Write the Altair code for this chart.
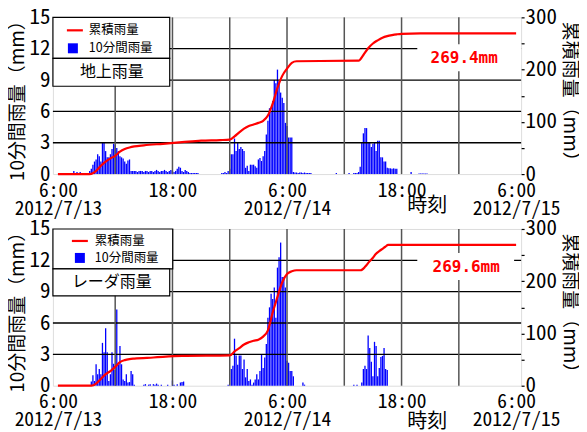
import altair as alt
import pandas as pd

# ---------------- data (10-minute rainfall, mm) ----------------
# each segment: (index of first 10-min step counted from 2012/7/13 6:00, values)
GROUND_A = (10, [0.3, 0.0, 0.2, 0.1, 0.2])
GROUND_B = (20, [0.3, 0.5, 0.9, 1.2, 1.4, 1.9, 1.7, 1.2, 3.0, 3.0, 2.2, 1.6, 1.6, 1.9,
                 2.4, 2.9, 2.8, 2.5, 2.2, 1.7, 1.6, 1.5, 1.2, 1.0, 1.3, 1.4, 0.3])
GROUND_C = (47, [0.3, 0.3, 0.3, 0.2, 0.3, 0.3, 0.3, 0.2, 0.3, 0.3, 0.2, 0.3, 0.3, 0.2,
                 0.3, 0.4, 0.3, 0.2, 0.3, 0.3, 0.4, 0.3, 0.2, 0.3, 0.4, 0.3, 0.2, 0.3,
                 0.5, 0.7, 0.6, 0.3, 0.2, 0.4, 0.3, 0.2, 0.1, 0.1, 0.1, 0.1, 0.1, 0.1])
GROUND_D = (103, [0.1, 0.1, 0.2, 0.1, 0.3,
                  0.5, 1.9, 1.9, 3.4, 2.2, 3.0, 2.4, 2.6, 2.4, 2.2, 0.6, 0.8, 0.3, 0.9,
                  0.9, 0.9, 0.75, 0.6, 1.4, 1.55, 1.25, 1.7, 2.2, 3.8, 5.1, 6.3, 6.0, 7.0,
                  9.0, 8.7, 10.0, 8.9, 7.8, 7.3, 6.8, 4.9, 4.6, 3.5, 3.5, 3.5, 0.2,
                  0.15, 0.15, 0.1, 0.15, 0.15, 0.1, 0.15, 0.1, 0.1, 0.1, 0.1])
GROUND_E = (175, [0.1])
GROUND_F = (183, [0.1, 0.0, 0.0, 0.1, 0.1, 0.1, 0.2, 0.7, 3.0, 3.9, 4.4, 4.4, 3.0, 3.0,
                  2.6, 2.9, 3.0, 2.2, 3.2, 3.2, 1.6, 1.6, 1.2, 1.2, 0.6, 0.55, 0.55, 0.5,
                  0.55, 0.5, 0.5])
GROUND_G = (222, [0.2, 0.0, 0.0, 0.0, 0.0, 0.05, 0.05, 0.05, 0.05, 0.05, 0.05])

RADAR_A = (21, [0.4, 1.0, 0.45, 2.05, 1.1, 1.6, 1.1, 4.1, 3.2, 5.5, 3.2, 0.45, 1.1, 3.2,
                2.1, 1.5, 7.3, 2.0, 3.8, 2.05, 0.6, 0.45, 1.1, 0.3, 0.35, 1.4, 1.1, 0.1])
RADAR_B = (54, [0.1, 0.15, 0.0, 0.1, 0.15, 0.0, 0.15, 0.1, 0.2, 0.1, 0.0, 0.1, 0.0, 0.0,
                0.0, 0.1, 0.0, 0.0, 0.5, 0.1, 0.0, 0.15, 0.0, 0.3, 0.35, 0.4])
RADAR_C = (107, [0.1, 0.0,
                 1.6, 1.9, 4.5, 2.9, 2.0, 2.9, 2.9, 1.6, 2.5, 0.8, 1.6, 0.45, 0.6, 0.1,
                 0.3, 0.6, 1.1, 0.6, 1.4, 3.0, 1.7, 2.7, 4.0, 6.5, 7.5, 8.8, 8.3, 9.4,
                 6.5, 11.3, 12.3, 13.7, 10.4, 10.4, 9.4, 2.4, 2.2, 1.4, 1.4, 0.9])
RADAR_D = (154, [0.3, 0.1])
RADAR_E = (186, [0.1, 0.0, 0.1, 0.0, 0.0, 0.3, 1.6, 1.9, 1.6, 4.8, 3.6, 2.3, 0.9, 4.2,
                 3.8, 0.9, 1.7, 2.75, 2.85, 3.6, 1.6, 1.5])

# cumulative rainfall (hours after 2012/7/13 6:00, mm)
G_CUM_H = [0, 3.3, 3.7, 4.0, 4.5, 5.0, 5.5, 6.0, 6.5, 7.0, 7.5, 8.0, 9.0, 11.0, 13.0,
           15.0, 17.0, 18.0, 18.5, 19.0, 19.5, 20.0, 20.5, 21.0, 21.5, 22.0, 22.5, 23.0,
           23.5, 24.0, 24.5, 25.0, 31.5, 32.0, 32.5, 33.0, 33.5, 34.0, 34.5, 35.0, 35.5,
           36.0, 38.0, 48.0]
G_CUM_V = [0, 0, 2, 6, 16, 24, 30, 35, 43, 48, 51, 53, 55, 58, 61, 64, 65, 66, 72, 80,
           87, 92, 95, 98, 102, 112, 135, 165, 188, 202, 213, 216, 217, 228, 241, 250,
           256, 261, 264, 266, 267.5, 268.5, 269.3, 269.4]
R_CUM_H = [0, 3.5, 4.0, 4.5, 5.0, 5.5, 6.0, 6.5, 7.0, 7.5, 8.0, 10.0, 13.0, 18.0, 18.6,
           19.0, 19.5, 20.0, 20.5, 21.0, 21.5, 22.0, 22.5, 23.0, 23.5, 24.0, 24.5, 25.0,
           31.7, 32.2, 32.6, 33.0, 33.3, 33.7, 34.0, 34.3, 34.6, 48.0]
R_CUM_V = [0, 0, 4, 13, 22, 28, 36, 45, 49, 51, 52, 54, 57, 58, 67, 72, 79, 83, 86, 88,
           94, 106, 140, 170, 198, 214, 219, 221, 221, 228, 237, 245, 252, 258, 262, 266,
           269.6, 269.6]

TICK_HOURS = [0, 12, 24, 36, 48]
TIME_LABELS = ["6:00", "18:00", "6:00", "18:00", "6:00"]
DATE_LABELS = ["2012/7/13", "", "2012/7/14", "", "2012/7/15"]
VGRID_HOURS = [6, 12, 18, 24, 30, 36, 42]
HGRID_MM = [3, 6, 9, 12]
LEFT_TICKS = [0, 3, 6, 9, 12, 15]
RIGHT_TICKS = [0, 50, 100, 150, 200, 250, 300]

FONT = "Noto Sans Mono CJK JP, Noto Sans CJK JP"
JFONT = "Noto Sans CJK JP"
W, H = 469, 157


def bars_frame(segments):
    rows = []
    for start, vals in segments:
        for i, v in enumerate(vals):
            if v > 0:
                rows.append({"h": (start + i) / 6.0, "rain": v})
    return pd.DataFrame(rows)


label_expr = " : ".join(
    f"datum.value == {h} ? ['{t}', '{d}']" for h, t, d in zip(TICK_HOURS, TIME_LABELS, DATE_LABELS)
) + " : ''"

xenc = alt.X("h:Q", scale=alt.Scale(domain=[0, 48], nice=False, zero=False),
             axis=alt.Axis(values=TICK_HOURS, labelExpr=label_expr, grid=False, ticks=False,
                           domain=False, labelFont=FONT, labelFontSize=19.5, labelColor="black",
                           labelPadding=7, labelLineHeight=18, labelOverlap=False,
                           labelFlush=False, labelBaseline="top"),
             title=None)

yleft = alt.Y("rain:Q", scale=alt.Scale(domain=[0, 15], nice=False),
              axis=alt.Axis(values=LEFT_TICKS, grid=False, ticks=False, domain=False,
                            labelFont=FONT, labelFontSize=21, labelColor="black", labelPadding=3,
                            title="10分間雨量（mm）", titleFont=JFONT, titleFontSize=19,
                            titleFontWeight="normal", titleColor="#000000", titlePadding=1),
              title="10分間雨量（mm）")

yright = alt.Y("cum:Q", scale=alt.Scale(domain=[0, 300], nice=False),
               axis=alt.Axis(orient="right", values=RIGHT_TICKS,
                             labelExpr="datum.value % 100 == 0 ? datum.label : ''",
                             grid=False, ticks=True, tickSize=3, tickColor="black",
                             tickWidth=1.2, domain=False, labelFont=FONT, labelFontSize=21,
                             labelColor="black", labelPadding=1,
                             title="累積雨量（mm）", titleFont=JFONT, titleFontSize=19,
                             titleFontWeight="normal", titleColor="#000000", titleAngle=90,
                             titlePadding=3),
               title="累積雨量（mm）")

one = pd.DataFrame({"a": [0]})


def panel(segments, cum_h, cum_v, station, total, lg):
    bars = alt.Chart(bars_frame(segments)).mark_bar(color="#0000ff", width=1.3).encode(
        x=xenc, y=yleft)
    hgrid = alt.Chart(pd.DataFrame({"rain": HGRID_MM})).mark_rule(
        color="black", strokeWidth=1.3).encode(y=yleft)
    left = alt.layer(bars, hgrid)
    vgrid = alt.Chart(pd.DataFrame({"h": VGRID_HOURS})).mark_rule(
        color="#555555", strokeWidth=1.5).encode(x=xenc)
    line = alt.Chart(pd.DataFrame({"h": cum_h, "cum": cum_v})).mark_line(
        color="#ff0000", strokeWidth=2.2, interpolate="monotone").encode(x=xenc, y=yright)

    base = alt.Chart(one)
    box1 = base.mark_rect(fill="white", stroke="black", strokeWidth=1.2).encode(
        x=alt.value(0), x2=alt.value(lg["w1"]), y=alt.value(0), y2=alt.value(lg["h1"]))
    box2 = base.mark_rect(fill="white", stroke="black", strokeWidth=1.2).encode(
        x=alt.value(0), x2=alt.value(117), y=alt.value(lg["h1"]), y2=alt.value(lg["h2"]))
    red = base.mark_rule(color="#ff0000", strokeWidth=2.2).encode(
        x=alt.value(lg["lx"]), x2=alt.value(lg["lx"] + 16), y=alt.value(lg["r1"]))
    sq = base.mark_rect(color="#0000ff").encode(
        x=alt.value(lg["sx"]), x2=alt.value(lg["sx"] + 10),
        y=alt.value(lg["r2"] - 5), y2=alt.value(lg["r2"] + 5))
    t1 = base.mark_text(align="left", baseline="middle", font=JFONT, fontSize=12.5,
                        color="black").encode(x=alt.value(lg["tx"]), y=alt.value(lg["r1"]),
                                              text=alt.value("累積雨量"))
    t2 = base.mark_text(align="left", baseline="middle", font=JFONT, fontSize=12.5,
                        color="black").encode(x=alt.value(lg["tx"]), y=alt.value(lg["r2"]),
                                              text=alt.value("10分間雨量"))
    t3 = base.mark_text(align="center", baseline="middle", font=JFONT, fontSize=16,
                        color="black").encode(x=alt.value(59), y=alt.value((lg["h1"] + lg["h2"]) / 2),
                                              text=alt.value(station))
    abox = base.mark_rect(fill="white").encode(
        x=alt.value(365), x2=alt.value(lg["ax2"]), y=alt.value(lg["ay"] - 14),
        y2=alt.value(lg["ay"] + 13))
    atxt = base.mark_text(align="center", baseline="middle", font="DejaVu Sans Mono",
                          fontSize=16, fontWeight="bold", color="#ff0000").encode(
        x=alt.value(lg["ax"]), y=alt.value(lg["ay"]), text=alt.value(total))
    jikoku = base.mark_text(align="center", baseline="middle", font=JFONT, fontSize=20,
                            color="black").encode(x=alt.value(375), y=alt.value(H + lg["jy"]),
                                                  text=alt.value("時刻"))
    return alt.layer(left, vgrid, line, box1, box2, red, sq, t1, t2, t3, abox, atxt,
                     jikoku).resolve_scale(y="independent").properties(width=W, height=H)


top = panel([GROUND_A, GROUND_B, GROUND_C, GROUND_D, GROUND_E, GROUND_F, GROUND_G],
            G_CUM_H, G_CUM_V, "地上雨量", "269.4mm",
            dict(w1=117, h1=41, h2=69, lx=14, sx=15, tx=36, r1=13, r2=31,
                 ax=412, ay=41, ax2=469, jy=32))
bottom = panel([RADAR_A, RADAR_B, RADAR_C, RADAR_D, RADAR_E],
               R_CUM_H, R_CUM_V, "レーダ雨量", "269.6mm",
               dict(w1=120, h1=40, h2=67, lx=19, sx=22, tx=42, r1=12, r2=29,
                    ax=414, ay=38, ax2=462, jy=36))

chart = alt.vconcat(top, bottom, spacing=-1).properties(
    padding={"left": 0, "top": -3, "right": 0, "bottom": 0}
).configure_view(stroke="black", strokeWidth=1.5).configure(background="white")

chart.save("out.html", embed_options={"renderer": "svg", "actions": False})
